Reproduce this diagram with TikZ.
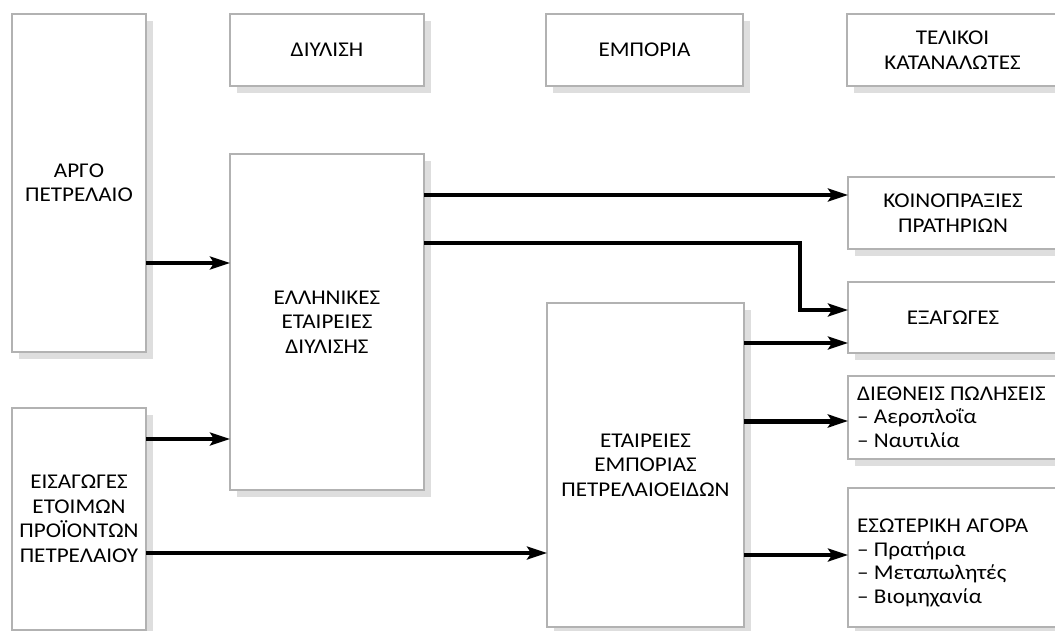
\documentclass[tikz,border=0pt]{standalone}
\usepackage{fontspec}
\setmainfont{Carlito}[FakeStretch=1.1]
\usetikzlibrary{shadows,arrows.meta}
\begin{document}
\begin{tikzpicture}[x=1pt,y=-1pt,
  box/.style={draw=black!30,line width=1.8pt,fill=white,anchor=north west,inner sep=0pt,outer sep=0pt,
     align=center,font=\fontsize{21}{24.5}\selectfont,
     drop shadow={shadow xshift=7pt,shadow yshift=-7pt,fill=black!13,opacity=1}},
  lbl/.style={anchor=west,align=left,inner sep=0pt,font=\fontsize{21}{23.5}\selectfont},
  arr/.style={line width=3.6pt,line join=miter,-{Stealth[length=20pt,width=13pt,inset=4pt]}},
  arrb/.style={arr,line width=5pt}]
\useasboundingbox (0,0) rectangle (1055,631);
\clip (0,0) rectangle (1055,631);
\node[box,minimum width=134pt,minimum height=338pt] (argo) at (12,14) {ΑΡΓΟ\\ΠΕΤΡΕΛΑΙΟ};
\node[box,minimum width=194pt,minimum height=72pt] (diyl) at (230,14) {ΔΙΥΛΙΣΗ};
\node[box,minimum width=194pt,minimum height=336pt] (ellin) at (230,154) {ΕΛΛΗΝΙΚΕΣ\\ΕΤΑΙΡΕΙΕΣ\\ΔΙΥΛΙΣΗΣ};
\node[box,minimum width=197pt,minimum height=72pt] (empo) at (546,14) {ΕΜΠΟΡΙΑ};
\node[box,minimum width=197pt,minimum height=324pt] (etair) at (547,303) {ΕΤΑΙΡΕΙΕΣ\\ΕΜΠΟΡΙΑΣ\\ΠΕΤΡΕΛΑΙΟΕΙΔΩΝ};
\node[box,minimum width=211pt,minimum height=72pt] (telik) at (847,14) {ΤΕΛΙΚΟΙ\\ΚΑΤΑΝΑΛΩΤΕΣ};
\node[box,minimum width=210pt,minimum height=72pt] (koin) at (848,177) {ΚΟΙΝΟΠΡΑΞΙΕΣ\\ΠΡΑΤΗΡΙΩΝ};
\node[box,minimum width=210pt,minimum height=71pt] (exag) at (848,282) {ΕΞΑΓΩΓΕΣ};
\node[box,minimum width=210pt,minimum height=83pt] (dieth) at (848,376) {};
\node[box,minimum width=210pt,minimum height=139pt] (esot) at (848,488) {};
\node[box,minimum width=134pt,minimum height=222pt] (eisag) at (12,408) {ΕΙΣΑΓΩΓΕΣ\\ΕΤΟΙΜΩΝ\\ΠΡΟΪΟΝΤΩΝ\\ΠΕΤΡΕΛΑΙΟΥ};
\node[lbl] (diethT) at (857,417) {ΔΙΕΘΝΕΙΣ ΠΩΛΗΣΕΙΣ\\– Αεροπλοΐα\\– Ναυτιλία};
\node[lbl] (esotT) at (857,563) {ΕΣΩΤΕΡΙΚΗ ΑΓΟΡΑ\\– Πρατήρια\\– Μεταπωλητές\\– Βιομηχανία};
% levels
\coordinate (ya) at (0,263);
\coordinate (yb) at (0,439);
\coordinate (yc) at (0,553);
\coordinate (yd) at (0,195);
\coordinate (ye) at (0,243);
\coordinate (bend) at (800,310);
\coordinate (yf) at (0,343);
\coordinate (yg) at (0,421);
\coordinate (yh) at (0,555);
\draw[arr] (argo.east |- ya) -- (ellin.west |- ya);
\draw[arr] (eisag.east |- yb) -- (ellin.west |- yb);
\draw[arr] (eisag.east |- yc) -- (etair.west |- yc);
\draw[arr] (ellin.east |- yd) -- (koin.west |- yd);
\draw[arr] (ellin.east |- ye) -| (bend) -- (exag.west |- bend);
\draw[arr] (etair.east |- yf) -- (exag.west |- yf);
\draw[arrb] (etair.east |- yg) -- (dieth.west |- yg);
\draw[arr] (etair.east |- yh) -- (esot.west |- yh);
\end{tikzpicture}
\end{document}
